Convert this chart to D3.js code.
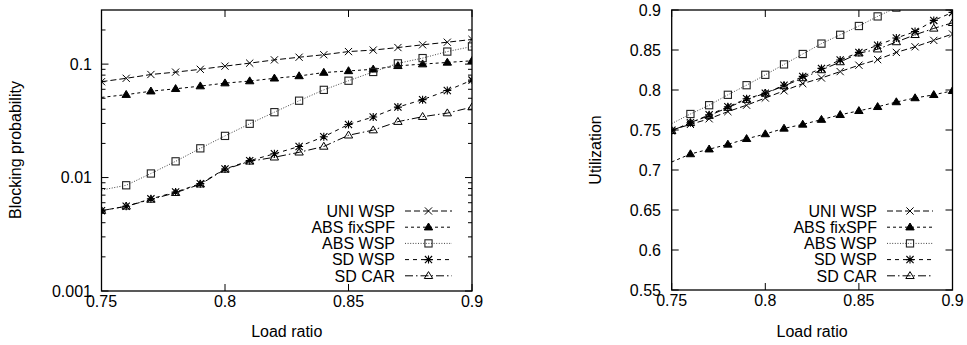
<!DOCTYPE html>
<html>
<head>
<meta charset="utf-8">
<script src="https://cdn.jsdelivr.net/npm/d3@7/dist/d3.min.js"></script>
<style>
  html, body { margin: 0; padding: 0; background: #fff; }
  svg { display: block; }
  text { font-family: "Liberation Sans", Arial, Helvetica, sans-serif; fill: #000; }
</style>
</head>
<body>
<svg id="chart" width="967" height="345"></svg>
<script>
// ---------------- DATA ----------------
const loadRatio = [0.75, 0.76, 0.77, 0.78, 0.79, 0.80, 0.81, 0.82, 0.83, 0.84, 0.85, 0.86, 0.87, 0.88, 0.89, 0.90];
const seriesNames = ["UNI WSP", "ABS fixSPF", "ABS WSP", "SD WSP", "SD CAR"];

// Blocking probability (left panel)
const blockUniWsp    = [0.070, 0.075, 0.081, 0.085, 0.090, 0.096, 0.102, 0.109, 0.115, 0.121, 0.129, 0.133, 0.140, 0.148, 0.156, 0.165];
const blockAbsFixSpf = [0.0509, 0.0538, 0.0577, 0.0606, 0.064, 0.068, 0.0709, 0.075, 0.0786, 0.0843, 0.0871, 0.090, 0.0966, 0.100, 0.1035, 0.107];
const blockAbsWsp    = [0.00776, 0.00855, 0.01086, 0.0139, 0.0181, 0.0233, 0.0298, 0.0377, 0.0476, 0.0593, 0.0714, 0.0853, 0.1016, 0.113, 0.129, 0.143];
const blockSdWsp     = [0.00511, 0.00558, 0.00649, 0.00745, 0.00884, 0.0119, 0.0141, 0.0162, 0.0188, 0.0229, 0.0294, 0.0342, 0.0418, 0.0486, 0.0585, 0.0723];
const blockSdCar     = [0.00511, 0.00558, 0.00641, 0.00735, 0.00873, 0.0118, 0.0139, 0.0151, 0.0167, 0.0188, 0.0236, 0.0262, 0.0311, 0.0344, 0.0370, 0.0418];

// Utilization (right panel)
const utilUniWsp    = [0.750, 0.757, 0.764, 0.773, 0.781, 0.790, 0.799, 0.808, 0.815, 0.823, 0.831, 0.838, 0.847, 0.854, 0.862, 0.870];
const utilAbsFixSpf = [0.710, 0.720, 0.726, 0.732, 0.739, 0.745, 0.752, 0.757, 0.763, 0.769, 0.774, 0.779, 0.785, 0.790, 0.794, 0.799];
const utilAbsWsp    = [0.758, 0.770, 0.781, 0.794, 0.806, 0.819, 0.832, 0.845, 0.858, 0.869, 0.880, 0.892, 0.903, 0.915, 0.927, 0.939];
const utilSdWsp     = [0.749, 0.759, 0.769, 0.779, 0.789, 0.796, 0.806, 0.817, 0.827, 0.8375, 0.847, 0.856, 0.865, 0.873, 0.887, 0.897];
const utilSdCar     = [0.749, 0.759, 0.768, 0.778, 0.788, 0.796, 0.805, 0.815, 0.825, 0.835, 0.846, 0.851, 0.860, 0.869, 0.877, 0.884];

// Tick values / labels
const xTickValues = [0.75, 0.8, 0.85, 0.9];
const xTickLabels = ["0.75", "0.8", "0.85", "0.9"];
const blockTickValues = [0.001, 0.01, 0.1];
const blockTickLabels = ["0.001", "0.01", "0.1"];
const utilTickValues = [0.55, 0.6, 0.65, 0.7, 0.75, 0.8, 0.85, 0.9];
const utilTickLabels = ["0.55", "0.6", "0.65", "0.7", "0.75", "0.8", "0.85", "0.9"];

// ---------------- STYLES ----------------
const seriesStyle = [
  { marker: "cross",    dash: "6,3",       color: "#000", skipFirst: false },
  { marker: "triFill",  dash: "3,3",       color: "#000", skipFirst: true  },
  { marker: "square",   dash: "1,1.6",     color: "#444", skipFirst: true  },
  { marker: "star",     dash: "4,4",       color: "#000", skipFirst: false },
  { marker: "triOpen",  dash: "8,3,1.5,3", color: "#000", skipFirst: false }
];

const svg = d3.select("#chart");
const FONT = 16;

function drawMarker(g, type, x, y, color) {
  const s = 3.6;
  if (type === "cross") {
    g.append("path").attr("d", `M${x-s},${y-s}L${x+s},${y+s}M${x-s},${y+s}L${x+s},${y-s}`)
      .attr("stroke", color).attr("stroke-width", 1).attr("fill", "none");
  } else if (type === "star") {
    g.append("path").attr("d", `M${x-s},${y-s}L${x+s},${y+s}M${x-s},${y+s}L${x+s},${y-s}M${x-s-0.4},${y}L${x+s+0.4},${y}M${x},${y-s-0.4}L${x},${y+s+0.4}`)
      .attr("stroke", color).attr("stroke-width", 1.1).attr("fill", "none");
  } else if (type === "square") {
    g.append("rect").attr("x", x-s).attr("y", y-s).attr("width", 2*s).attr("height", 2*s)
      .attr("stroke", "#222").attr("stroke-width", 1.1).attr("fill", "none");
  } else if (type === "triFill" || type === "triOpen") {
    const h = 4.2;
    g.append("path").attr("d", `M${x},${y-h}L${x+h},${y+h*0.65}L${x-h},${y+h*0.65}Z`)
      .attr("stroke", color).attr("stroke-width", 1)
      .attr("fill", type === "triFill" ? color : "none");
  }
}

function drawPanel(cfg) {
  const { x, y, series, clipId, yTickValues, yTickLabels, minorTicks, yTitle, yTitleX, legendTextX, legendLineX0, legendLineX1, labelRightX } = cfg;
  const [x0, x1] = x.range();
  const [yb, yt] = y.range();
  const g = svg.append("g");

  svg.append("defs").append("clipPath").attr("id", clipId)
    .append("rect").attr("x", x0).attr("y", yt).attr("width", x1 - x0).attr("height", yb - yt);

  // ticks (inward, mirrored)
  const tickG = g.append("g").attr("stroke", "#000").attr("stroke-width", 1);
  const majorLen = 7, minorLen = 4;
  xTickValues.forEach(v => {
    const px = x(v);
    tickG.append("line").attr("x1", px).attr("x2", px).attr("y1", yb).attr("y2", yb - majorLen);
    tickG.append("line").attr("x1", px).attr("x2", px).attr("y1", yt).attr("y2", yt + majorLen);
  });
  yTickValues.forEach(v => {
    const py = y(v);
    tickG.append("line").attr("x1", x0).attr("x2", x0 + majorLen).attr("y1", py).attr("y2", py);
    tickG.append("line").attr("x1", x1).attr("x2", x1 - majorLen).attr("y1", py).attr("y2", py);
  });
  (minorTicks || []).forEach(v => {
    const py = y(v);
    tickG.append("line").attr("x1", x0).attr("x2", x0 + minorLen).attr("y1", py).attr("y2", py);
    tickG.append("line").attr("x1", x1).attr("x2", x1 - minorLen).attr("y1", py).attr("y2", py);
  });

  // tick labels
  xTickValues.forEach((v, i) => {
    g.append("text").attr("x", x(v)).attr("y", yb + 15.5).attr("text-anchor", "middle")
      .attr("font-size", FONT).text(xTickLabels[i]);
  });
  yTickValues.forEach((v, i) => {
    g.append("text").attr("x", labelRightX).attr("y", y(v) + 5.7).attr("text-anchor", "end")
      .attr("font-size", FONT).text(yTickLabels[i]);
  });

  // titles
  g.append("text").attr("x", (x0 + x1) / 2).attr("y", 337).attr("text-anchor", "middle")
    .attr("font-size", FONT).text("Load ratio");
  g.append("text").attr("transform", `translate(${yTitleX},150) rotate(-90)`).attr("text-anchor", "middle")
    .attr("font-size", FONT).text(yTitle);

  // series
  const line = d3.line().x((d, i) => x(loadRatio[i])).y(d => y(d));
  const dataG = g.append("g").attr("clip-path", `url(#${clipId})`);
  series.forEach((vals, si) => {
    const st = seriesStyle[si];
    dataG.append("path").attr("d", line(vals)).attr("fill", "none")
      .attr("stroke", st.color).attr("stroke-width", 1).attr("stroke-dasharray", st.dash);
  });
  series.forEach((vals, si) => {
    const st = seriesStyle[si];
    vals.forEach((v, i) => {
      if (st.skipFirst && i === 0) return;
      drawMarker(dataG, st.marker, x(loadRatio[i]), y(v), st.color);
    });
  });

  // legend
  const legendY0 = 211, legendStep = 16.2;
  seriesNames.forEach((name, si) => {
    const st = seriesStyle[si];
    const ly = legendY0 + si * legendStep;
    g.append("text").attr("x", legendTextX).attr("y", ly + 5.7).attr("text-anchor", "end")
      .attr("font-size", FONT).text(name);
    g.append("line").attr("x1", legendLineX0).attr("x2", legendLineX1).attr("y1", ly).attr("y2", ly)
      .attr("stroke", st.color).attr("stroke-width", 1).attr("stroke-dasharray", st.dash);
    drawMarker(g, st.marker, (legendLineX0 + legendLineX1) / 2, ly, st.color);
  });

  // frame
  g.append("rect").attr("x", x0).attr("y", yt).attr("width", x1 - x0).attr("height", yb - yt)
    .attr("fill", "none").attr("stroke", "#000").attr("stroke-width", 1.3);
}

// Left panel: blocking probability (log)
const xLeft = d3.scaleLinear().domain([0.75, 0.9]).range([101.5, 472]);
const yLeft = d3.scaleLog().domain([0.001, 0.3]).range([291, 10]);
const leftMinor = [];
[0.001, 0.01, 0.1].forEach(dec => {
  for (let k = 2; k <= 9; k++) { const v = k * dec; if (v < 0.3) leftMinor.push(v); }
});
drawPanel({
  x: xLeft, y: yLeft, clipId: "clipL",
  series: [blockUniWsp, blockAbsFixSpf, blockAbsWsp, blockSdWsp, blockSdCar],
  yTickValues: blockTickValues, yTickLabels: blockTickLabels, minorTicks: leftMinor,
  yTitle: "Blocking probability", yTitleX: 21,
  legendTextX: 395, legendLineX0: 405, legendLineX1: 452, labelRightX: 92
});

// Right panel: utilization (linear)
const xRight = d3.scaleLinear().domain([0.75, 0.9]).range([671.7, 952.5]);
const yRight = d3.scaleLinear().domain([0.55, 0.9]).range([290, 10]);
drawPanel({
  x: xRight, y: yRight, clipId: "clipR",
  series: [utilUniWsp, utilAbsFixSpf, utilAbsWsp, utilSdWsp, utilSdCar],
  yTickValues: utilTickValues, yTickLabels: utilTickLabels, minorTicks: [],
  yTitle: "Utilization", yTitleX: 601,
  legendTextX: 877, legendLineX0: 887, legendLineX1: 933, labelRightX: 661
});
</script>
</body>
</html>
